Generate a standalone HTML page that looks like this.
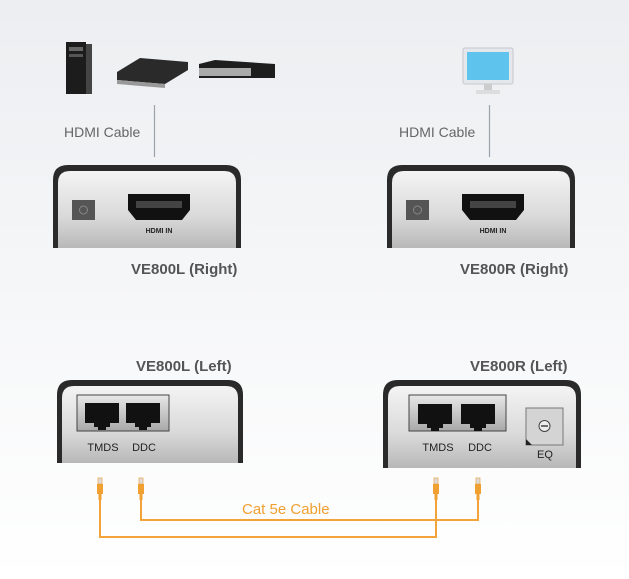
<!DOCTYPE html>
<html><head><style>
html,body{margin:0;padding:0;width:629px;height:579px;overflow:hidden;background:#f3f4f6;}
svg{display:block}
text{font-family:"Liberation Sans",Arial,sans-serif}
</style></head><body>
<svg width="629" height="579" viewBox="0 0 629 579" xmlns="http://www.w3.org/2000/svg">
<defs>
<linearGradient id="bg" x1="0" y1="0" x2="0" y2="1"><stop offset="0" stop-color="#eceef1"/><stop offset="1" stop-color="#ffffff"/></linearGradient>
<linearGradient id="dev" x1="0" y1="0" x2="0" y2="1"><stop offset="0" stop-color="#f4f4f4"/><stop offset="0.6" stop-color="#d9d9d9"/><stop offset="1" stop-color="#b8b8b8"/></linearGradient>
<linearGradient id="frm" x1="0" y1="0" x2="0" y2="1"><stop offset="0" stop-color="#e8e8e8"/><stop offset="1" stop-color="#a8a8a8"/></linearGradient>
<g id="rj"><path d="M0 0h34v20h-9v4h-4v3h-8v-3h-4v-4h-9z" fill="#111"/></g>
<g id="conn"><rect x="-2" y="0" width="4" height="6" fill="#ddd" stroke="#e8a040" stroke-width="0.7"/><rect x="-3" y="6" width="6" height="10" fill="#f0a030"/><rect x="-1.5" y="16" width="3" height="6" fill="#f0a030"/></g>
</defs>
<rect width="629" height="579" fill="url(#bg)"/>

<rect x="66" y="42" width="20" height="52" fill="#1c1c1c"/><rect x="86" y="44" width="6" height="50" fill="#444"/><rect x="69" y="47" width="14" height="4" fill="#666"/><rect x="69" y="54" width="14" height="3" fill="#555"/>
<path d="M117 72 L140 58 L188 62 L188 70 L165 84 L117 80Z" fill="#2a2a2a"/><path d="M117 80 L165 84 L165 88 L117 84Z" fill="#999"/>
<path d="M199 64 L215 60 L275 64 L275 78 L199 78Z" fill="#1e1e1e"/><rect x="199" y="68" width="52" height="8" fill="#aaa"/>
<rect x="463" y="48" width="50" height="36" rx="2" fill="#e4e8ec" stroke="#c4c8cc"/><rect x="467" y="52" width="42" height="28" fill="#5ec4ee"/><rect x="484" y="84" width="8" height="6" fill="#ccc"/><rect x="476" y="90" width="24" height="4" fill="#ddd"/>

<text x="64" y="137" font-size="14" fill="#666">HDMI Cable</text>
<line x1="154.5" y1="105" x2="154.5" y2="157" stroke="#9aa3ab" stroke-width="1.2"/>
<text x="399" y="137" font-size="14" fill="#666">HDMI Cable</text>
<line x1="489.5" y1="105" x2="489.5" y2="157" stroke="#9aa3ab" stroke-width="1.2"/>

<g>
<path d="M53 248 V180 Q53 165 68 165 H226 Q241 165 241 180 V248Z" fill="#2a2a2a"/>
<path d="M58 248 V183 Q58 171 70 171 H224 Q236 171 236 183 V248Z" fill="url(#dev)"/>
<rect x="72" y="200" width="23" height="20" fill="#555"/><circle cx="83.5" cy="210" r="4" fill="none" stroke="#888"/>
<path d="M128 194 H190 V210 L182 220 H136 L128 210Z" fill="#111"/><rect x="136" y="201" width="46" height="7" fill="#444"/>
<text x="159" y="233" font-size="7" font-weight="bold" text-anchor="middle" fill="#222">HDMI IN</text>
</g>
<text x="131" y="274" font-size="15" font-weight="bold" fill="#555">VE800L (Right)</text>
<g>
<path d="M387 248 V180 Q387 165 402 165 H560 Q575 165 575 180 V248Z" fill="#2a2a2a"/>
<path d="M392 248 V183 Q392 171 404 171 H558 Q570 171 570 183 V248Z" fill="url(#dev)"/>
<rect x="406" y="200" width="23" height="20" fill="#555"/><circle cx="417.5" cy="210" r="4" fill="none" stroke="#888"/>
<path d="M462 194 H524 V210 L516 220 H470 L462 210Z" fill="#111"/><rect x="470" y="201" width="46" height="7" fill="#444"/>
<text x="493" y="233" font-size="7" font-weight="bold" text-anchor="middle" fill="#222">HDMI IN</text>
</g>
<text x="460" y="274" font-size="15" font-weight="bold" fill="#555">VE800R (Right)</text>

<text x="136" y="371" font-size="15" font-weight="bold" fill="#555">VE800L (Left)</text>
<path d="M57 463 V395 Q57 380 72 380 H228 Q243 380 243 395 V463Z" fill="#2a2a2a"/>
<path d="M62 463 V398 Q62 386 74 386 H226 Q238 386 238 398 V463Z" fill="url(#dev)"/>
<rect x="77" y="395" width="92" height="36" fill="url(#frm)" stroke="#444"/>
<use href="#rj" x="85" y="403"/><use href="#rj" x="126" y="403"/>
<text x="103" y="451" font-size="11" text-anchor="middle" fill="#222">TMDS</text>
<text x="144" y="451" font-size="11" text-anchor="middle" fill="#222">DDC</text>

<text x="470" y="371" font-size="15" font-weight="bold" fill="#555">VE800R (Left)</text>
<path d="M383 468 V395 Q383 380 398 380 H566 Q581 380 581 395 V468Z" fill="#2a2a2a"/>
<path d="M388 468 V398 Q388 386 400 386 H564 Q576 386 576 398 V468Z" fill="url(#dev)"/>
<rect x="409" y="395" width="97" height="36" fill="url(#frm)" stroke="#444"/>
<use href="#rj" x="418" y="404"/><use href="#rj" x="461" y="404"/>
<text x="438" y="451" font-size="11" text-anchor="middle" fill="#222">TMDS</text>
<text x="480" y="451" font-size="11" text-anchor="middle" fill="#222">DDC</text>
<rect x="526" y="408" width="37" height="37" fill="#d4d4d4" stroke="#777"/><path d="M526 445 v-6 l6 6z" fill="#222"/>
<circle cx="544.5" cy="426" r="5.5" fill="#eee" stroke="#444"/><line x1="541" y1="426" x2="548" y2="426" stroke="#444" stroke-width="1.5"/>
<text x="545" y="458" font-size="11" text-anchor="middle" fill="#222">EQ</text>

<g fill="none" stroke="#f2a33a" stroke-width="2">
<polyline points="141,498 141,520 478,520 478,498"/>
<polyline points="100,498 100,537 436,537 436,498"/>
</g>
<use href="#conn" x="100" y="478"/><use href="#conn" x="141" y="478"/>
<use href="#conn" x="436" y="478"/><use href="#conn" x="478" y="478"/>
<text x="242" y="514" font-size="15" fill="#f0a030">Cat 5e Cable</text>
</svg>
</body></html>
